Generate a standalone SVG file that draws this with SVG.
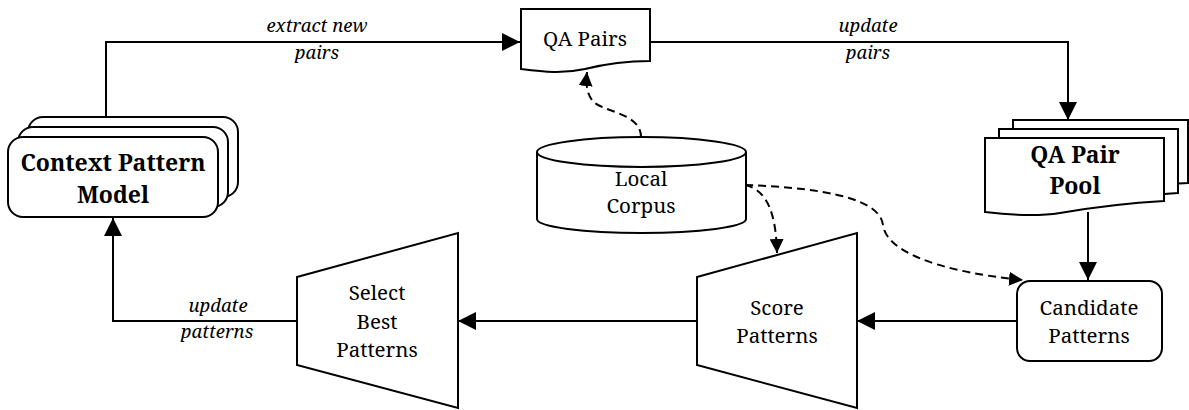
<svg xmlns="http://www.w3.org/2000/svg" width="1189" height="410" viewBox="0 0 1189 410">
<style>
.s{fill:#fff;stroke:#000;stroke-width:2}
text{font-family:'Noto Serif','Liberation Serif','DejaVu Serif',serif;fill:#000;text-anchor:middle}
.t{font-size:20.5px}
.b{font-size:23px;font-weight:bold}
.i{font-size:18.5px;font-style:italic}
.c{fill:none;stroke:#000;stroke-width:2}
.d{fill:none;stroke:#000;stroke-width:2;stroke-dasharray:8,5}
</style>
<defs>
<marker id="a" markerUnits="userSpaceOnUse" markerWidth="18" markerHeight="18" refX="18" refY="9" orient="auto"><path d="M0,0 L18,9 L0,18 Z" fill="#000"/></marker>
<marker id="ad" markerUnits="userSpaceOnUse" markerWidth="14" markerHeight="14" refX="14" refY="7" orient="auto"><path d="M0,0 L14,7 L0,14 Z" fill="#000"/></marker>
</defs>
<rect width="1189" height="410" fill="#fff"/>
<g id="connectors">
<path class="c" d="M106,117 L106,42 L520,42" marker-end="url(#a)"/>
<path class="c" d="M650,42 L1068,42 L1068,120" marker-end="url(#a)"/>
<path class="c" d="M1088,212 L1088,280" marker-end="url(#a)"/>
<path class="c" d="M1017,321 L857,321" marker-end="url(#a)"/>
<path class="c" d="M697,321 L458,321" marker-end="url(#a)"/>
<path class="c" d="M297,321 L113,321 L113,218" marker-end="url(#a)"/>
<path class="d" d="M641,137 C641,112 600,112 592,100 C586,92 586,82 587,72" marker-end="url(#ad)"/>
<path class="d" d="M745,185 C768,190 776,215 777,253" marker-end="url(#ad)"/>
<path class="d" d="M745,185 C830,188 880,200 883,225 C888,262 980,276 1023,280" marker-end="url(#ad)"/>
<text class="i" x="317" y="32">extract new</text>
<text class="i" x="317" y="59">pairs</text>
<text class="i" x="868" y="32">update</text>
<text class="i" x="868" y="59">pairs</text>
<text class="i" x="218" y="312">update</text>
<text class="i" x="217" y="338">patterns</text>
</g>
<g id="context-pattern-model">
<rect class="s" x="28" y="117" width="210" height="80" rx="15"/>
<rect class="s" x="18" y="127" width="210" height="80" rx="15"/>
<rect class="s" x="8" y="137" width="210" height="80" rx="15"/>
<text class="b" x="113" y="171">Context Pattern</text>
<text class="b" x="113" y="203">Model</text>
</g>
<g id="qa-pairs">
<path class="s" d="M521,9 L650,9 L650,61 C625,61 605,64 585,69 C562,74 545,72 521,69 Z"/>
<text class="t" x="585" y="46">QA Pairs</text>
</g>
<g id="qa-pair-pool">
<path class="s" d="M1013,120 L1188,120 L1188,183 C1150,185 1120,190 1088,195 C1060,199 1035,196 1013,194 Z"/>
<path class="s" d="M999,129 L1178,129 L1178,193 C1140,195 1110,199 1074,204 C1049,208 1024,205 999,203 Z"/>
<path class="s" d="M985,138 L1164,138 L1164,201 C1128,203 1095,207 1060,213 C1035,217 1010,215 985,212 Z"/>
<text class="b" x="1075" y="163">QA Pair</text>
<text class="b" x="1075" y="194">Pool</text>
</g>
<g id="local-corpus">
<path class="s" d="M537,152 L537,219 A104.5,14 0 0 0 746,219 L746,152"/>
<ellipse class="s" cx="641.5" cy="152" rx="104.5" ry="15"/>
<text class="t" x="641" y="186">Local</text>
<text class="t" x="641" y="213">Corpus</text>
</g>
<g id="candidate-patterns">
<rect class="s" x="1017" y="281" width="145" height="80" rx="13"/>
<text class="t" x="1089" y="315">Candidate</text>
<text class="t" x="1089" y="343">Patterns</text>
</g>
<g id="score-patterns">
<path class="s" d="M697,277 L857,233 L857,408 L697,365 Z"/>
<text class="t" x="777" y="315">Score</text>
<text class="t" x="777" y="343">Patterns</text>
</g>
<g id="select-best-patterns">
<path class="s" d="M297,277 L458,233 L458,408 L297,365 Z"/>
<text class="t" x="377" y="300">Select</text>
<text class="t" x="377" y="329">Best</text>
<text class="t" x="377" y="357">Patterns</text>
</g>
</svg>
